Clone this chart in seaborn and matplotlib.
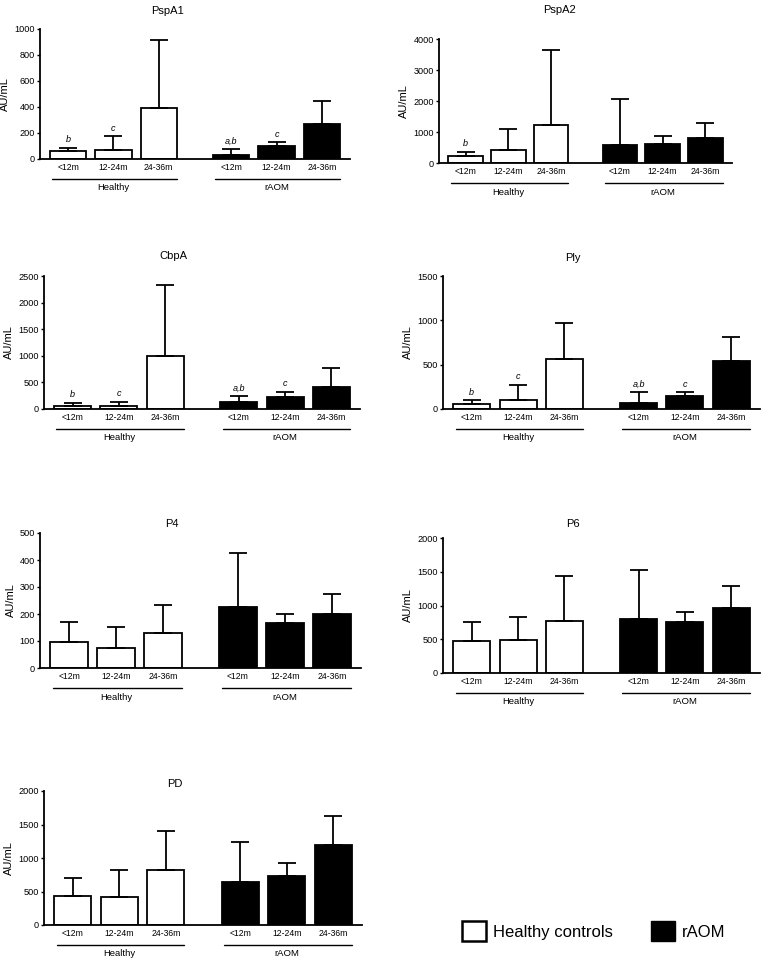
import matplotlib
matplotlib.use("Agg")
import matplotlib.pyplot as plt
from matplotlib.patches import Patch
from matplotlib.transforms import offset_copy
import numpy as np
import pandas as pd
import seaborn as sns

# ---- data ----
ages = ["<12m", "12-24m", "24-36m"]
groups = ["Healthy", "rAOM"]
legend_labels = ["Healthy controls", "rAOM"]
antigens = ["PspA1", "PspA2", "CbpA", "Ply", "P4", "P6", "PD"]

# order: Healthy <12m, 12-24m, 24-36m, rAOM <12m, 12-24m, 24-36m
pspa1_mean = [59, 70, 389, 34, 98, 271]
pspa1_sd = [29, 105, 523, 43, 31, 175]
pspa2_mean = [236, 429, 1233, 579, 622, 815]
pspa2_sd = [129, 665, 2413, 1491, 247, 483]
cbpa_mean = [56, 56, 1004, 125, 218, 411]
cbpa_sd = [62, 81, 1321, 112, 106, 356]
ply_mean = [56, 105, 560, 71, 147, 538]
ply_sd = [45, 166, 406, 121, 45, 278]
p4_mean = [96, 74, 131, 226, 168, 201]
p4_sd = [76, 77, 104, 200, 33, 72]
p6_mean = [475, 490, 777, 802, 762, 960]
p6_sd = [282, 337, 654, 723, 144, 322]
pd_mean = [436, 421, 822, 639, 738, 1188]
pd_sd = [262, 401, 579, 599, 183, 436]

# significance letters above bars
pspa1_marks = ["b", "c", "", "a,b", "c", ""]
pspa2_marks = ["b", "", "", "", "", ""]
cbpa_marks = ["b", "c", "", "a,b", "c", ""]
ply_marks = ["b", "c", "", "a,b", "c", ""]
no_marks = [""] * 6

y_max = [1000, 4000, 2500, 1500, 500, 2000, 2000]
y_step = [200, 1000, 500, 500, 100, 500, 500]

# ---- layout (pixel boxes: left, right, top, bottom) ----
W, H = 764, 964
boxes = [
    (40, 350, 29, 159), (439, 732, 39, 163),
    (44, 360, 276, 409), (443, 760, 276, 409),
    (40, 361, 533, 668), (443, 760, 538, 673),
    (44, 362, 791, 925),
]
title_pads = [10.5, 19, 12, 10.5, 4.5, 8, 3]

group_gap = 0.6
x_pos = np.concatenate([np.arange(3), np.arange(3) + 3 + group_gap])
palette = {"Healthy": "white", "rAOM": "black"}

sns.set_style("ticks")
plt.rcParams["font.family"] = ["Liberation Sans", "DejaVu Sans"]
plt.rcParams.update({
    "text.color": "black", "axes.labelcolor": "black",
    "xtick.color": "black", "ytick.color": "black", "axes.edgecolor": "black",
})

fig = plt.figure(figsize=(W / 100, H / 100), dpi=100)


def draw_panel(ax, title, mean, sd, marks, ymax, ystep, tpad):
    df = pd.DataFrame({
        "x": x_pos,
        "AU/mL": mean,
        "group": np.repeat(groups, 3),
    })
    sns.barplot(
        data=df, x="x", y="AU/mL", hue="group", hue_order=groups,
        palette=palette, native_scale=True, width=0.8, dodge=False,
        edgecolor="black", linewidth=1.3, errorbar=None, legend=False, ax=ax,
    )
    # one-sided SD bars
    ax.errorbar(
        x_pos, mean, yerr=[np.zeros(len(sd)), sd], fmt="none",
        ecolor="black", elinewidth=1.3, capsize=6.5, capthick=1.3, zorder=1,
    )
    for x, m, s, lab in zip(x_pos, mean, sd, marks):
        if lab:
            ax.annotate(lab, (x, m + s), xytext=(0, 2.5), textcoords="offset points",
                        ha="center", va="bottom", fontsize=6.5, style="italic")

    ax.set_xlim(x_pos[0] - 0.62, x_pos[-1] + 0.62)
    ax.set_ylim(0, ymax)
    ax.set_yticks(np.arange(0, ymax + 1, ystep))
    ax.set_xticks(x_pos, ages * 2)
    ax.tick_params(axis="x", length=0, pad=3, labelsize=6.2)
    ax.tick_params(axis="y", length=2.5, width=1.0, pad=1, labelsize=6.6)
    ax.set_xlabel("")
    ax.set_ylabel("AU/mL", fontsize=8, labelpad=3)
    ax.set_title(title, fontsize=8, x=0.41, pad=tpad)
    for side in ["left", "bottom"]:
        ax.spines[side].set_linewidth(1.3)
    sns.despine(ax=ax)

    # group underline + group name below the age labels
    line_tr = offset_copy(ax.get_xaxis_transform(), fig=fig, y=-20, units="dots")
    text_tr = offset_copy(ax.get_xaxis_transform(), fig=fig, y=-29, units="dots")
    for g, name in enumerate(groups):
        xs = x_pos[g * 3:(g + 1) * 3]
        ax.plot([xs[0] - 0.35, xs[-1] + 0.4], [0, 0], color="black", lw=1.0,
                transform=line_tr, clip_on=False)
        ax.text(xs.mean(), 0, name, transform=text_tr, ha="center", va="center",
                fontsize=6.8)


means = [pspa1_mean, pspa2_mean, cbpa_mean, ply_mean, p4_mean, p6_mean, pd_mean]
sds = [pspa1_sd, pspa2_sd, cbpa_sd, ply_sd, p4_sd, p6_sd, pd_sd]
marks_all = [pspa1_marks, pspa2_marks, cbpa_marks, ply_marks, no_marks, no_marks, no_marks]

for i, name in enumerate(antigens):
    l, r, t, b = boxes[i]
    ax = fig.add_axes([l / W, 1 - b / H, (r - l) / W, (b - t) / H])
    draw_panel(ax, name, means[i], sds[i], marks_all[i], y_max[i], y_step[i], title_pads[i])

handles = [
    Patch(facecolor="white", edgecolor="black", linewidth=1.8),
    Patch(facecolor="black", edgecolor="black", linewidth=1.0),
]
fig.legend(
    handles, legend_labels, loc="center", bbox_to_anchor=(594 / W, 1 - 931 / H),
    ncol=2, frameon=False, fontsize=12, handlelength=1.4, handleheight=1.4,
    handletextpad=0.45, columnspacing=2.3,
)

fig.savefig("out.png", dpi=100)
plt.close(fig)
